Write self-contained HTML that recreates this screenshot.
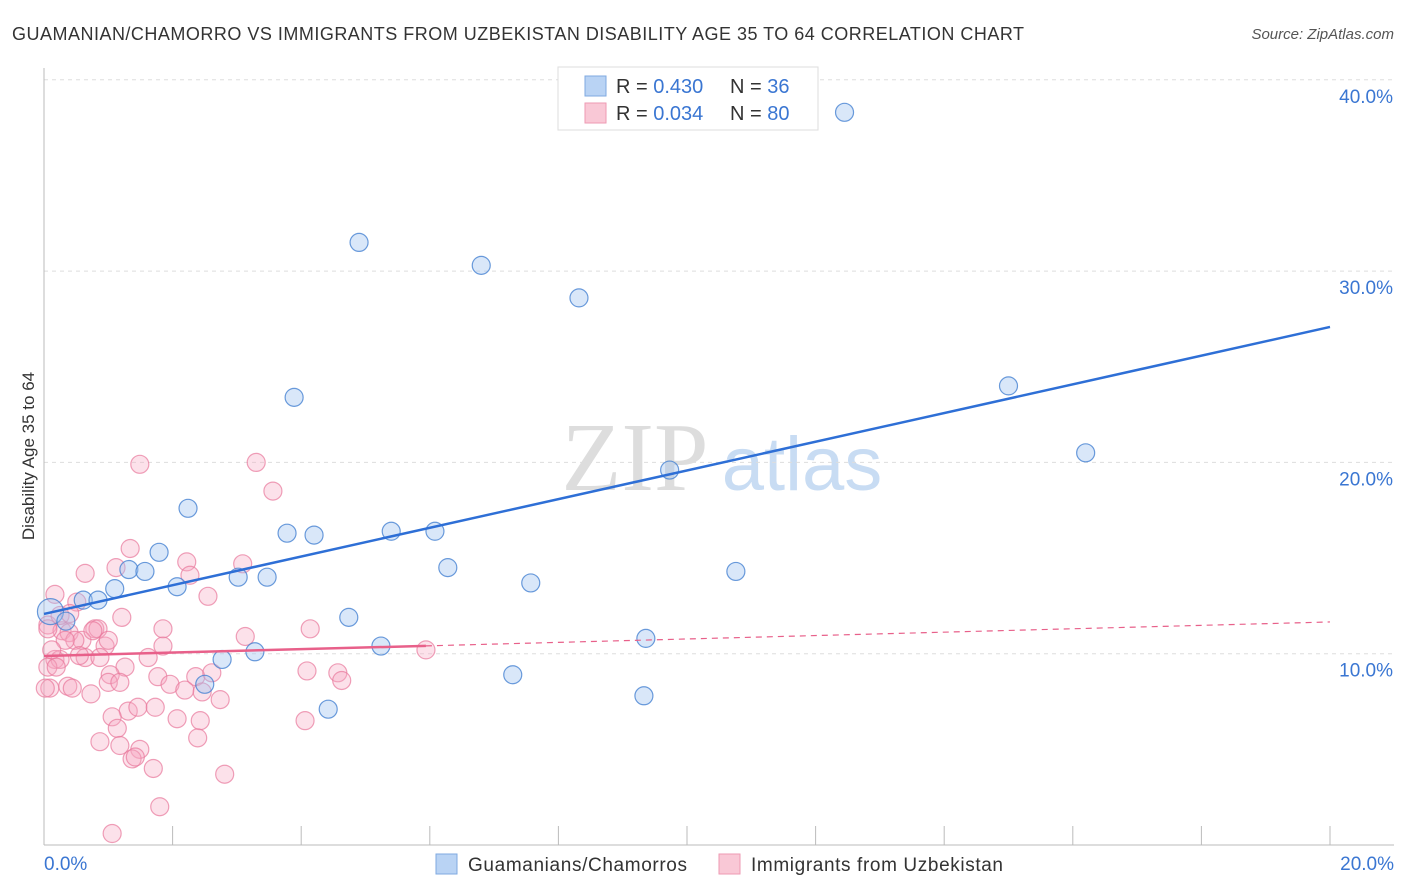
<!DOCTYPE html>
<html><head><meta charset="utf-8"><style>
body{margin:0;background:#fff;font-family:"Liberation Sans",sans-serif;}
</style></head><body>
<svg id="c" width="1406" height="892" style="display:block">
<text x="12" y="40" font-size="18" fill="#333" textLength="1012">GUAMANIAN/CHAMORRO VS IMMIGRANTS FROM UZBEKISTAN DISABILITY AGE 35 TO 64 CORRELATION CHART</text>
<text x="1394" y="39" font-size="15" fill="#555" font-style="italic" text-anchor="end">Source: ZipAtlas.com</text>
<text x="34" y="456" font-size="17" fill="#333" text-anchor="middle" transform="rotate(-90 34 456)">Disability Age 35 to 64</text>
<g>
<text x="635" y="490" font-size="98" fill="#ddd" font-family="Liberation Serif,serif" text-anchor="middle">ZIP</text>
<text x="802" y="490" font-size="76" fill="#c8dcf3" text-anchor="middle">atlas</text>
</g>
<g id="grid"></g><g id="axes"></g><g id="pts"></g><g id="trends"></g>
<g>
<rect x="558" y="67" width="260" height="63" fill="#fff" stroke="#ddd"/>
<rect x="585" y="76" width="21" height="20" fill="#b9d3f4" stroke="#7fa9e0"/>
<rect x="585" y="103" width="21" height="20" fill="#f9c8d6" stroke="#ee9ab3"/>
<text x="616" y="93" font-size="20" fill="#333">R = <tspan fill="#3a76d2">0.430</tspan></text>
<text x="730" y="93" font-size="20" fill="#333">N = <tspan fill="#3a76d2"> 36</tspan></text>
<text x="616" y="120" font-size="20" fill="#333">R = <tspan fill="#3a76d2">0.034</tspan></text>
<text x="730" y="120" font-size="20" fill="#333">N = <tspan fill="#3a76d2">80</tspan></text>
</g>
<g>
<rect x="436" y="854" width="21" height="20" fill="#b9d3f4" stroke="#7fa9e0"/>
<text x="468" y="871" font-size="19" fill="#333" textLength="219">Guamanians/Chamorros</text>
<rect x="719" y="854" width="21" height="20" fill="#f9c8d6" stroke="#ee9ab3"/>
<text x="751" y="871" font-size="19" fill="#333" textLength="252">Immigrants from Uzbekistan</text>
</g>
</svg>
<script>
const yTicks=[10,20,30,40];
const yTickLabels=["10.0%","20.0%","30.0%","40.0%"];
const xTickLabels=["0.0%","20.0%"];
const blueX=[12.45,4.9,6.8,8.32,3.89,15.0,16.2,9.73,2.24,5.4,3.78,4.2,6.08,1.79,1.32,1.57,6.28,10.76,3.02,3.47,7.57,2.07,1.1,0.61,0.84,0.1,0.34,4.74,9.36,5.24,3.28,2.77,7.29,2.5,9.33,4.42];
const blueY=[38.3,31.5,30.3,28.6,23.4,24.0,20.5,19.6,17.6,16.4,16.3,16.2,16.4,15.3,14.4,14.3,14.5,14.3,14.0,14.0,13.7,13.5,13.4,12.8,12.8,12.2,11.7,11.9,10.8,10.4,10.1,9.7,8.9,8.4,7.8,7.1];
const pinkX=[1.49,3.3,3.56,1.34,2.22,3.09,0.64,1.12,2.27,0.17,0.51,2.55,1.21,0.06,0.79,0.28,0.39,0.59,0.84,0.76,1.85,4.14,3.13,0.48,0.95,1.85,0.17,0.25,0.64,0.87,1.62,1.26,0.06,0.19,1.03,1.77,2.36,2.61,4.09,4.57,4.63,1.0,1.18,1.96,2.19,0.37,0.09,0.44,0.73,2.46,2.74,1.31,1.46,1.73,1.06,2.07,2.43,4.06,1.14,0.87,2.39,1.18,1.49,1.37,1.42,1.70,2.81,1.80,1.06,5.94,0.06,0.25,0.33,0.12,1.0,0.40,0.02,0.55];
const pinkY=[19.9,20.0,18.5,15.5,14.8,14.7,14.2,14.5,14.1,13.1,12.7,13.0,11.9,11.5,11.3,11.2,11.1,10.7,11.3,11.2,11.3,11.3,10.9,10.7,10.4,10.4,9.7,9.7,9.8,9.8,9.8,9.3,9.3,9.3,8.9,8.8,8.8,9.0,9.1,9.0,8.6,8.5,8.5,8.4,8.1,8.3,8.2,8.2,7.9,8.0,7.6,7.0,7.2,7.2,6.7,6.6,6.5,6.5,6.1,5.4,5.6,5.2,5.0,4.5,4.6,4.0,3.7,2.0,0.6,10.2,11.3,12.0,10.7,10.2,10.7,12.1,8.2,9.9];
const blueTrend=[12.08,27.08];
const pinkTrend=[9.88,11.66];
const pinkSolidEnd=5.94;
const NS="http://www.w3.org/2000/svg";
const X=v=>44+v*64.3, Y=v=>845-v*19.13;
function mk(t,a,p){const e=document.createElementNS(NS,t);for(const k in a)e.setAttribute(k,a[k]);p.appendChild(e);return e;}
const g=document.getElementById('grid'),ax=document.getElementById('axes'),pts=document.getElementById('pts'),tr=document.getElementById('trends');
yTicks.forEach((t,i)=>{
 const l=mk('line',{x1:44,x2:1394,y1:Y(t),y2:Y(t),stroke:'#ddd','stroke-dasharray':'4,4'},g);
 
 
 const tx=mk('text',{x:1393,y:Y(t)+23,'font-size':19,fill:'#3a76d2','text-anchor':'end'},ax);
 tx.textContent=yTickLabels[i];
 
 
});
const ya=mk('line',{x1:44,x2:44,y1:68,y2:845,stroke:'#bbb'},ax);


const xa=mk('line',{x1:44,x2:1394,y1:845,y2:845,stroke:'#bbb'},ax);


for(let i=1;i<=10;i++){const t=mk('line',{x1:X(i*2),x2:X(i*2),y1:826,y2:845,stroke:'#bbb'},ax);
 
 }
[[0,44,'start'],[20,1394,'end']].forEach((d,i)=>{const t=mk('text',{x:d[1],y:870,'font-size':19,fill:'#3a76d2','text-anchor':d[2]},ax);t.textContent=xTickLabels[i];
 
 });
pinkX.forEach((x,i)=>{const c=mk('circle',{cx:X(x),cy:Y(pinkY[i]),r:9,fill:'rgba(246,170,195,0.35)',stroke:'rgba(232,120,155,0.7)','stroke-width':1.2},pts);
 
 });
blueX.forEach((x,i)=>{const c=mk('circle',{cx:X(x),cy:Y(blueY[i]),r:i==25?13:9,fill:'rgba(160,195,240,0.4)',stroke:'rgba(70,130,210,0.8)','stroke-width':1.2},pts);
 
 });
const bl=mk('line',{x1:X(0),y1:Y(blueTrend[0]),x2:X(20),y2:Y(blueTrend[1]),stroke:'#2e6fd6','stroke-width':2.5},tr);


const py=x=>pinkTrend[0]+(pinkTrend[1]-pinkTrend[0])*x/20;
const pl=mk('line',{x1:X(0),y1:Y(py(0)),x2:X(pinkSolidEnd),y2:Y(py(pinkSolidEnd)),stroke:'#e8608a','stroke-width':2.5},tr);


const pd=mk('line',{x1:X(pinkSolidEnd),y1:Y(py(pinkSolidEnd)),x2:X(20),y2:Y(py(20)),stroke:'#e8608a','stroke-width':1.2,'stroke-dasharray':'6,5'},tr);


</script>
</body></html>
